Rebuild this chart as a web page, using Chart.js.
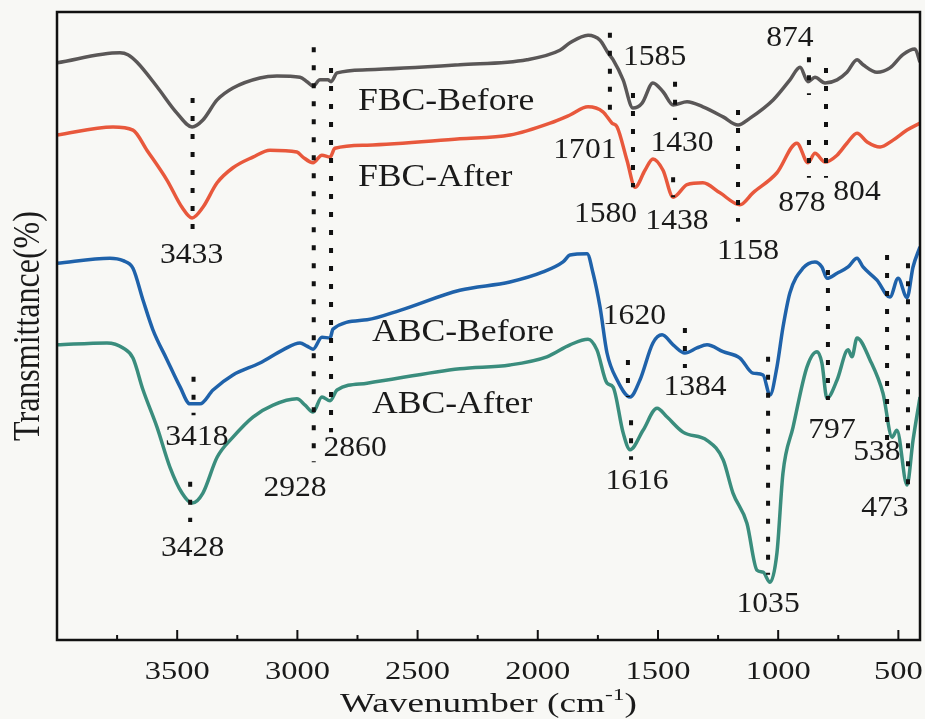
<!DOCTYPE html>
<html>
<head>
<meta charset="utf-8">
<title>FTIR spectra</title>
<script src="https://cdn.jsdelivr.net/npm/chart.js@4.4.0/dist/chart.umd.min.js"></script>
<style>
  html, body { margin: 0; padding: 0; background: #f8f8f5; }
  #wrap { width: 925px; height: 719px; }
</style>
</head>
<body>
<div id="wrap"><canvas id="ftirChart" width="925" height="719"></canvas></div>
<script>
// Spectra: wavenumber (cm-1) and transmittance (offset, arbitrary units)
const fbcBeforeWn = [4000, 3738, 3705, 3667, 3584, 3501, 3438, 3393, 3334, 3268, 3156, 3085, 2989, 2960, 2935, 2906, 2873, 2860, 2835, 2710, 2324, 2045, 1908, 1866, 1791, 1741, 1708, 1687, 1645, 1604, 1566, 1521, 1479, 1437, 1379, 1313, 1229, 1167, 1117, 1021, 951, 909, 876, 847, 805, 755, 714, 672, 647, 589, 535, 481, 431, 410];
const fbcBeforeT = [91.9, 93.5, 93.2, 92.0, 88.1, 83.9, 81.7, 82.8, 86.0, 87.9, 89.5, 89.8, 89.6, 88.9, 88.2, 89.2, 89.2, 88.9, 90.3, 90.8, 91.6, 92.4, 93.9, 95.1, 96.3, 95.5, 93.5, 92.4, 89.2, 84.7, 85.5, 88.7, 87.3, 85.2, 85.7, 84.9, 83.3, 82.0, 83.1, 86.0, 89.2, 91.2, 88.9, 89.6, 88.7, 89.2, 90.4, 92.4, 91.6, 90.4, 91.1, 93.2, 94.1, 92.0];

const fbcAfterWn = [4000, 3767, 3684, 3626, 3542, 3480, 3438, 3393, 3334, 3268, 3185, 3114, 3002, 2977, 2935, 2898, 2864, 2844, 2710, 2324, 2116, 1949, 1866, 1791, 1729, 1691, 1670, 1629, 1595, 1554, 1521, 1479, 1437, 1379, 1313, 1242, 1159, 1105, 1005, 922, 876, 847, 805, 755, 714, 672, 630, 576, 522, 464, 410];
const fbcAfterT = [80.4, 81.7, 81.2, 78.0, 73.2, 68.9, 67.2, 68.9, 72.8, 75.2, 76.9, 78.0, 77.7, 76.9, 76.0, 77.2, 76.9, 78.3, 78.8, 79.8, 80.4, 82.3, 83.6, 84.9, 84.1, 82.3, 81.7, 76.4, 72.1, 74.8, 76.6, 74.8, 70.5, 72.5, 72.8, 71.2, 69.3, 71.2, 74.4, 79.1, 76.0, 77.5, 76.1, 77.2, 79.1, 80.7, 79.3, 78.5, 79.6, 81.2, 82.3];

const abcBeforeWn = [4000, 3780, 3725, 3684, 3642, 3601, 3542, 3488, 3447, 3405, 3351, 3268, 3156, 3060, 2989, 2960, 2935, 2898, 2864, 2852, 2710, 2573, 2324, 2116, 1978, 1895, 1866, 1795, 1770, 1741, 1712, 1670, 1616, 1575, 1521, 1483, 1437, 1388, 1338, 1296, 1229, 1159, 1105, 1063, 1034, 1005, 980, 951, 897, 847, 818, 797, 755, 709, 672, 647, 589, 535, 501, 464, 439, 410];
const abcBeforeT = [60.0, 60.8, 60.4, 59.2, 54.1, 49.4, 44.6, 40.3, 37.6, 37.6, 39.8, 42.2, 44.1, 46.2, 47.3, 46.8, 46.3, 48.2, 48.1, 49.5, 51.0, 52.5, 55.7, 57.0, 58.6, 60.2, 61.3, 61.5, 58.4, 53.0, 45.7, 41.4, 38.7, 41.4, 47.3, 48.6, 47.0, 45.7, 46.5, 47.0, 45.9, 44.9, 42.5, 42.2, 39.0, 43.5, 49.8, 55.3, 59.2, 60.2, 59.4, 57.6, 58.4, 59.4, 60.8, 59.4, 57.3, 54.6, 57.6, 54.5, 59.4, 62.6];

const abcAfterWn = [4000, 3792, 3725, 3684, 3642, 3584, 3530, 3480, 3438, 3393, 3334, 3268, 3185, 3101, 3002, 2968, 2935, 2898, 2864, 2835, 2710, 2324, 2116, 1962, 1866, 1791, 1754, 1712, 1687, 1645, 1616, 1562, 1504, 1462, 1396, 1296, 1229, 1188, 1130, 1088, 1063, 1034, 1005, 980, 938, 880, 838, 818, 797, 755, 709, 693, 672, 618, 564, 526, 506, 464, 439, 410];
const abcAfterT = [47.0, 47.3, 46.5, 44.9, 39.8, 33.9, 27.5, 23.4, 21.8, 23.4, 29.1, 32.3, 35.5, 37.4, 38.4, 37.4, 36.3, 38.7, 38.1, 39.8, 40.9, 43.2, 43.8, 45.1, 47.0, 47.9, 46.2, 40.9, 40.3, 33.0, 30.3, 33.4, 36.9, 35.5, 33.1, 31.8, 28.7, 23.4, 18.6, 11.1, 10.8, 9.2, 13.9, 26.6, 33.9, 43.5, 45.9, 44.1, 38.5, 41.4, 46.2, 45.1, 48.1, 44.6, 39.3, 32.3, 33.4, 24.7, 31.8, 38.7];

// series names and where their names sit
const seriesNames = ['FBC-Before', 'FBC-After', 'ABC-Before', 'ABC-After'];
const seriesColors = ['#5a5757', '#e8583c', '#1f62aa', '#3a8d7d'];
const nameWn = [2748, 2748, 2690, 2690];
const nameT = [85.7, 73.6, 48.9, 37.4];

// dotted peak markers (wavenumber, top and bottom in transmittance units)
const markWn = [3436, 2932, 2860, 3432, 3446, 1700, 1604, 1429, 1437, 1167, 872, 872, 801, 1625, 1612, 1388, 1042, 793, 547, 460];
const markTop = [86.3, 94.4, 91.1, 41.9, 25.2, 96.7, 87.1, 88.9, 73.7, 84.4, 92.8, 79.6, 91.1, 44.6, 35.0, 49.7, 45.1, 58.9, 61.3, 60.0];
const markBottom = [65.3, 28.3, 33.1, 35.8, 18.8, 84.4, 72.1, 82.8, 70.5, 66.6, 86.8, 73.6, 73.6, 38.7, 28.7, 43.3, 10.4, 38.2, 31.4, 23.4];

// peak labels
const peakText = ['3433', '3418', '3428', '2928', '2860', '1701', '1585', '1580', '1430', '1438', '1158', '874', '878', '804', '1620', '1616', '1384', '1035', '797', '538', '473'];
const peakWn = [3440, 3418, 3436, 3010, 2760, 1804, 1514, 1718, 1400, 1421, 1125, 951, 901, 672, 1598, 1587, 1346, 1042, 776, 589, 556];
const peakT = [61.3, 32.3, 14.6, 24.2, 30.5, 78.0, 92.8, 67.7, 79.1, 66.6, 61.9, 95.8, 69.6, 71.2, 51.6, 25.2, 40.3, 5.6, 33.4, 29.8, 21.0];

// x axis
const tickValues = [3500, 3000, 2500, 2000, 1500, 1000, 500];
const tickLabels = ['3500', '3000', '2500', '2000', '1500', '1000', '500'];
const minorTickValues = [3750, 3250, 2750, 2250, 1750, 1250, 750];

const serif = '"Liberation Serif", "Times New Roman", serif';

function toPoints(wn, t) {
  return wn.map((w, i) => ({ x: w, y: t[i] }));
}

// draws text stretched sideways, the way the figure's lettering is
function wideText(ctx, text, x, y, sx, align) {
  ctx.save();
  ctx.translate(x, y);
  ctx.scale(sx, 1);
  ctx.textAlign = align;
  ctx.fillText(text, 0, 0);
  ctx.restore();
}

const decorPlugin = {
  id: 'decor',
  beforeDraw(chart) {
    const ctx = chart.ctx;
    ctx.save();
    ctx.fillStyle = '#f8f8f5';
    ctx.fillRect(0, 0, chart.width, chart.height);
    ctx.restore();
  },
  afterDatasetsDraw(chart) {
    const { ctx, chartArea: a, scales: { x, y } } = chart;

    // dotted markers
    ctx.save();
    ctx.beginPath();
    ctx.rect(a.left, a.top, a.right - a.left, a.bottom - a.top);
    ctx.clip();
    ctx.setLineDash([5, 13]);
    ctx.lineWidth = 4;
    ctx.strokeStyle = '#111';
    markWn.forEach((wn, i) => {
      const px = x.getPixelForValue(wn);
      ctx.beginPath();
      ctx.moveTo(px, y.getPixelForValue(markTop[i]));
      ctx.lineTo(px, y.getPixelForValue(markBottom[i]));
      ctx.stroke();
    });
    ctx.restore();

    ctx.save();
    ctx.fillStyle = '#1a1a1a';
    ctx.textBaseline = 'middle';

    // series names
    ctx.font = '31px ' + serif;
    seriesNames.forEach((name, i) => {
      wideText(ctx, name, x.getPixelForValue(nameWn[i]), y.getPixelForValue(nameT[i]), 1.15, 'left');
    });

    // peak numbers
    ctx.font = '29px ' + serif;
    peakText.forEach((txt, i) => {
      wideText(ctx, txt, x.getPixelForValue(peakWn[i]), y.getPixelForValue(peakT[i]), 1.09, 'center');
    });
    ctx.restore();
  },
  afterDraw(chart) {
    const { ctx, chartArea: a, scales: { x } } = chart;
    ctx.save();

    // frame
    ctx.strokeStyle = '#111';
    ctx.lineWidth = 2.5;
    ctx.strokeRect(a.left, a.top, a.right - a.left, a.bottom - a.top);

    // inward ticks on the bottom axis
    ctx.lineWidth = 2;
    tickValues.forEach(v => {
      const px = x.getPixelForValue(v);
      ctx.beginPath();
      ctx.moveTo(px, a.bottom);
      ctx.lineTo(px, a.bottom - 10);
      ctx.stroke();
    });
    minorTickValues.forEach(v => {
      const px = x.getPixelForValue(v);
      ctx.beginPath();
      ctx.moveTo(px, a.bottom);
      ctx.lineTo(px, a.bottom - 5);
      ctx.stroke();
    });

    // tick labels
    ctx.fillStyle = '#1a1a1a';
    ctx.textBaseline = 'alphabetic';
    ctx.font = '26px ' + serif;
    tickValues.forEach((v, i) => {
      wideText(ctx, tickLabels[i], x.getPixelForValue(v), a.bottom + 39, 1.25, 'center');
    });

    // x title with superscript
    const big = '27px ' + serif, small = '17px ' + serif;
    const sx = 1.38;
    ctx.font = big;
    const w1 = ctx.measureText('Wavenumber (cm').width;
    const w3 = ctx.measureText(')').width;
    ctx.font = small;
    const w2 = ctx.measureText('-1').width;
    const total = (w1 + w2 + w3) * sx;
    const cx = (a.left + a.right) / 2;
    let left = cx - total / 2;
    const base = a.bottom + 72;
    ctx.font = big;
    wideText(ctx, 'Wavenumber (cm', left, base, sx, 'left');
    left += w1 * sx;
    ctx.font = small;
    wideText(ctx, '-1', left, base - 12, sx, 'left');
    left += w2 * sx;
    ctx.font = big;
    wideText(ctx, ')', left, base, sx, 'left');

    // y title
    ctx.save();
    ctx.translate(29, (a.top + a.bottom) / 2);
    ctx.rotate(-Math.PI / 2);
    ctx.scale(1, 1.2);
    ctx.font = '32px ' + serif;
    ctx.textAlign = 'center';
    ctx.textBaseline = 'middle';
    ctx.fillText('Transmittance(%)', 0, 0);
    ctx.restore();

    ctx.restore();
  }
};

const datasets = [
  [fbcBeforeWn, fbcBeforeT],
  [fbcAfterWn, fbcAfterT],
  [abcBeforeWn, abcBeforeT],
  [abcAfterWn, abcAfterT]
].map((s, i) => ({
  label: seriesNames[i],
  data: toPoints(s[0], s[1]),
  borderColor: seriesColors[i],
  borderWidth: 3.5,
  pointRadius: 0,
  cubicInterpolationMode: 'monotone',
  fill: false
}));

function drawChart() {
  const ctx = document.getElementById('ftirChart').getContext('2d');
  new Chart(ctx, {
    type: 'line',
    data: { datasets: datasets },
    options: {
      responsive: false,
      animation: false,
      devicePixelRatio: 1,
      layout: { padding: { left: 57, right: 5, top: 12, bottom: 0 } },
      plugins: {
        legend: { display: false },
        tooltip: { enabled: false }
      },
      scales: {
        x: {
          type: 'linear',
          reverse: true,
          min: 410,
          max: 4000,
          grid: { display: false, drawTicks: false },
          border: { display: false },
          ticks: { display: false },
          afterBuildTicks: scale => {
            scale.ticks = tickValues.map(v => ({ value: v }));
          },
          afterFit: scale => {
            scale.height = 79;
            scale.paddingLeft = 0;
            scale.paddingRight = 0;
          }
        },
        y: {
          display: false,
          min: 0,
          max: 100
        }
      }
    },
    plugins: [decorPlugin]
  });
}

// make sure the serif face is ready before the canvas text is drawn
Promise.all([
  document.fonts.load('29px "Liberation Serif"'),
  document.fonts.load('17px "Liberation Serif"')
]).then(drawChart, drawChart);
</script>
</body>
</html>
